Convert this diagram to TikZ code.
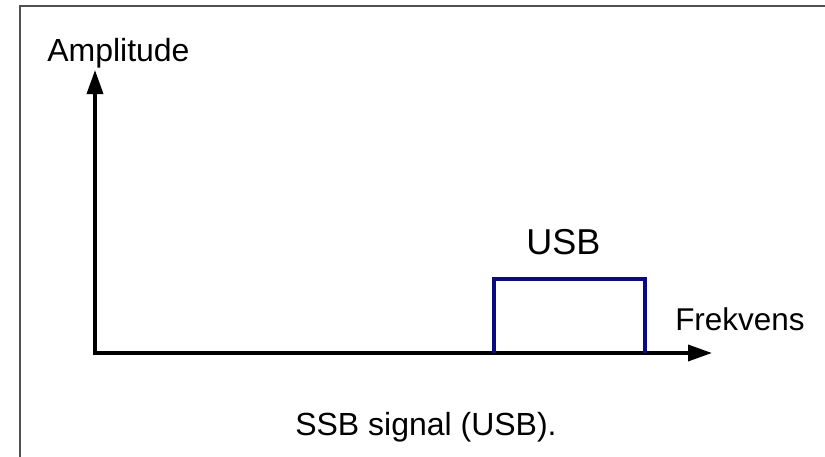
\documentclass[tikz,border=0pt]{standalone}
\usepackage{fontspec}
\setmainfont{Liberation Sans}
\usetikzlibrary{arrows.meta}
\definecolor{usbblue}{RGB}{10,10,130}
\definecolor{framegray}{RGB}{80,80,80}
\begin{document}
\begin{tikzpicture}[x=0.75pt,y=-0.75pt,
  axis/.style={line width=2.6pt,black,line join=miter,{Triangle[length=18pt,width=12pt]}-{Triangle[length=18pt,width=12pt]}},
  band/.style={line width=3pt,usbblue},
  frameline/.style={line width=1.1pt,framegray},
  lbl/.style={inner sep=0pt,anchor=base west,font=\fontsize{24pt}{28pt}\selectfont}]
\useasboundingbox (0,0) rectangle (825,457);
% frame
\coordinate (fl) at (20,457);
\coordinate (ftl) at (20,6);
\coordinate (ftr) at (825,6);
\draw[frameline] (fl) -- (ftl) -- (ftr);
% axes
\coordinate (origin) at (95,353);
\coordinate (ytip) at (95,70);
\coordinate (xtip) at (712,353);
\draw[axis] (ytip) -- (origin) -- (xtip);
% USB band
\coordinate (b1) at (494,353);
\coordinate (b2) at (494,279);
\coordinate (b3) at (645,279);
\coordinate (b4) at (645,353);
\draw[band] (b1) -- (b2) -- (b3) -- (b4);
% labels
\node[lbl] (amp) at (47,61) {Amplitude};
\node[lbl,font=\fontsize{23.6pt}{28pt}\selectfont] (frek) at (675,330) {Frekvens};
\node[lbl,font=\fontsize{27pt}{32pt}\selectfont] (usb) at (526,254) {USB};
\node[lbl] (cap) at (295,435) {SSB signal (USB).};
\end{tikzpicture}
\end{document}
